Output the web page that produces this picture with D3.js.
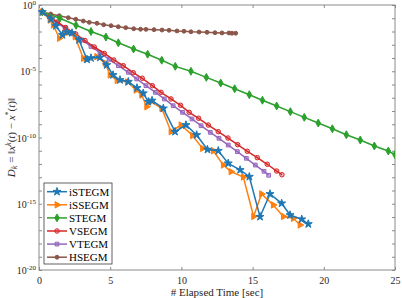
<!DOCTYPE html>
<html>
<head>
<meta charset="utf-8">
<script src="https://cdn.jsdelivr.net/npm/d3@7"></script>
<style>
  body { margin: 0; background: #fff; }
  svg text { font-family: "Liberation Serif", "Times New Roman", serif !important; }
</style>
</head>
<body>
<div id="chart"></div>
<script>
// series data (time in sec, D_k)
var istegmTime = [0.23, 0.84, 1.19, 1.65, 1.97, 2.32, 2.81, 3.37, 3.65, 4.28, 4.75, 5.20, 5.69, 6.27, 6.88, 7.32, 7.68, 7.94, 8.73, 9.55, 10.32, 11.07, 11.83, 12.59, 13.29, 14.12, 14.77, 15.52, 16.22, 17.04, 17.63, 18.45, 18.91];
var istegmD = [2.95e-1, 8.71e-2, 2.63e-2, 5.50e-3, 9.12e-3, 7.76e-3, 2.29e-3, 7.76e-5, 1.0e-4, 1.10e-4, 2.95e-5, 5.25e-6, 2.19e-6, 1.62e-6, 5.50e-7, 2.19e-7, 5.01e-8, 6.17e-8, 1.58e-8, 2.75e-10, 8.71e-10, 1.55e-10, 1.23e-11, 1.0e-11, 1.12e-12, 3.55e-13, 1.10e-13, 1.05e-16, 5.50e-15, 1.07e-15, 1.41e-16, 6.76e-17, 2.95e-17];

var issegmTime = [0.23, 0.77, 1.00, 1.43, 1.78, 2.06, 2.53, 3.11, 3.30, 4.05, 4.64, 4.99, 5.48, 6.21, 6.81, 7.21, 7.56, 7.84, 8.62, 9.27, 9.97, 10.78, 11.48, 12.24, 12.94, 13.48, 14.35, 15.07, 15.63, 16.45, 17.16, 17.86, 18.33];
var issegmD = [2.95e-1, 7.41e-2, 3.09e-2, 3.09e-3, 7.24e-3, 8.71e-3, 4.07e-3, 9.55e-5, 7.94e-5, 1.26e-4, 4.17e-5, 5.25e-6, 2.0e-6, 1.55e-6, 3.80e-7, 1.62e-7, 2.09e-8, 5.01e-8, 1.58e-8, 2.75e-10, 8.71e-10, 1.41e-10, 1.51e-11, 1.0e-11, 8.32e-13, 2.63e-13, 1.05e-13, 1.10e-16, 5.50e-15, 8.13e-16, 1.10e-16, 7.94e-17, 2.51e-17];

var stegmTime = [0.23, 1.47, 2.60, 3.65, 4.70, 5.57, 6.64, 7.63, 8.62, 9.57, 10.67, 11.75, 12.76, 13.74, 14.77, 15.69, 16.69, 17.65, 18.63, 19.61, 20.60, 21.58, 22.56, 23.55, 24.53, 25.0];
var stegmD = [2.95e-1, 1.0e-1, 2.95e-2, 1.0e-2, 3.8e-3, 1.41e-3, 4.79e-4, 1.91e-4, 6.76e-5, 2.34e-5, 1.0e-5, 3.47e-6, 1.29e-6, 4.79e-7, 1.70e-7, 6.46e-8, 2.40e-8, 8.91e-9, 3.31e-9, 1.23e-9, 4.57e-10, 1.62e-10, 6.46e-11, 2.29e-11, 9.55e-12, 5.01e-12];

var vsegmTime = [0.23, 0.77, 1.29, 1.87, 2.58, 3.23, 3.88, 4.59, 5.25, 5.92, 6.62, 7.25, 7.96, 8.57, 9.27, 9.94, 10.55, 11.21, 11.89, 12.59, 13.27, 13.95, 14.63, 15.33, 16.03, 16.69, 17.06];
var vsegmD = [2.95e-1, 1.23e-1, 5.25e-2, 2.0e-2, 6.46e-3, 2.09e-3, 6.76e-4, 2.19e-4, 7.08e-5, 2.63e-5, 7.76e-6, 2.95e-6, 8.13e-7, 2.57e-7, 8.13e-8, 2.69e-8, 7.94e-9, 2.82e-9, 8.71e-10, 2.75e-10, 9.12e-11, 2.88e-11, 9.12e-12, 3.02e-12, 9.55e-13, 2.95e-13, 1.55e-13];

var vtegmTime = [0.23, 0.77, 1.29, 1.83, 2.42, 3.02, 3.65, 4.28, 4.93, 5.57, 6.27, 6.86, 7.51, 8.17, 8.80, 9.42, 10.08, 10.74, 11.38, 12.03, 12.64, 13.29, 13.93, 14.56, 15.19, 15.80, 16.13];
var vtegmD = [2.95e-1, 1.15e-1, 4.37e-2, 1.82e-2, 6.46e-3, 2.29e-3, 7.41e-4, 2.51e-4, 7.94e-5, 2.63e-5, 8.32e-6, 2.63e-6, 8.13e-7, 2.57e-7, 8.13e-8, 2.51e-8, 7.94e-9, 2.51e-9, 7.76e-10, 2.45e-10, 8.71e-11, 2.69e-11, 8.51e-12, 2.69e-12, 8.32e-13, 2.82e-13, 1.41e-13];

var hsegmTime = [0.23, 0.82, 1.43, 2.06, 2.58, 3.11, 3.53, 4.07, 4.54, 5.06, 5.57, 6.09, 6.65, 7.13, 7.51, 8.08, 8.64, 9.13, 9.69, 10.18, 10.67, 11.24, 11.80, 12.36, 12.85, 13.34, 13.55, 13.81];
var hsegmD = [2.95e-1, 2.09e-1, 1.55e-1, 1.10e-1, 8.32e-2, 6.17e-2, 4.90e-2, 4.17e-2, 3.24e-2, 2.75e-2, 2.29e-2, 1.95e-2, 1.62e-2, 1.48e-2, 1.45e-2, 1.38e-2, 1.29e-2, 1.23e-2, 1.10e-2, 1.05e-2, 9.55e-3, 9.12e-3, 8.70e-3, 8.10e-3, 7.76e-3, 7.76e-3, 7.40e-3, 7.40e-3];

var seriesNames = ["iSTEGM", "iSSEGM", "STEGM", "VSEGM", "VTEGM", "HSEGM"];
var xTicks = [0, 5, 10, 15, 20, 25];
var yTicks = [1e0, 1e-1, 1e-2, 1e-3, 1e-4, 1e-5, 1e-6, 1e-7, 1e-8, 1e-9, 1e-10, 1e-11, 1e-12, 1e-13, 1e-14, 1e-15, 1e-16, 1e-17, 1e-18, 1e-19, 1e-20];
var yLabelExp = {"0": "0", "-5": "-5", "-10": "-10", "-15": "-15", "-20": "-20"};

var svgWidth = 402;
var svgHeight = 298;
var margin = { top: 5, right: 7, bottom: 28, left: 39 };
var width = svgWidth - margin.left - margin.right;
var height = svgHeight - margin.top - margin.bottom;
var serif = "'Liberation Serif', 'Times New Roman', serif";

var svg = d3.select("#chart")
  .append("svg")
  .attr("width", svgWidth)
  .attr("height", svgHeight)
  .attr("font-family", serif);

var chartGroup = svg.append("g")
  .attr("transform", `translate(${margin.left}, ${margin.top})`);

var xScale = d3.scaleLinear().domain([0, 25]).range([0, width]);
var yScale = d3.scaleLog().domain([1e-20, 1]).range([height, 0]);

var axisColor = "#8a8a8a";
var labelColor = "#262626";

// axes with inward ticks
var bottomAxis = d3.axisBottom(xScale).tickValues(xTicks).tickSize(-3).tickPadding(7);
var topAxis = d3.axisTop(xScale).tickValues(xTicks).tickSize(-3).tickFormat("");
var leftAxis = d3.axisLeft(yScale).tickValues(yTicks).tickSize(-3).tickPadding(5).tickFormat("");
var rightAxis = d3.axisRight(yScale).tickValues(yTicks).tickSize(-3).tickFormat("");

function styleAxis(g) {
  g.attr("font-family", serif);
  g.select(".domain").remove();
  g.selectAll(".tick line").attr("stroke", axisColor);
  g.selectAll("text").attr("fill", labelColor).style("font-size", "10px");
}

chartGroup.append("g").attr("transform", `translate(0, ${height})`).call(bottomAxis).call(styleAxis);
chartGroup.append("g").call(topAxis).call(styleAxis);
var yAxisG = chartGroup.append("g").call(leftAxis).call(styleAxis);
chartGroup.append("g").attr("transform", `translate(${width}, 0)`).call(rightAxis).call(styleAxis);

// y labels as 10^n
yAxisG.selectAll(".tick").each(function(d) {
  var e = Math.round(Math.log10(d));
  if (yLabelExp[String(e)] === undefined) return;
  var t = d3.select(this).append("text")
    .attr("x", -3).attr("dy", "0.35em")
    .attr("text-anchor", "end")
    .attr("fill", labelColor)
    .style("font-size", "10px");
  t.append("tspan").text("10");
  t.append("tspan").attr("dy", "-4").style("font-size", "7px").text(yLabelExp[String(e)]);
});

// box
chartGroup.append("rect")
  .attr("width", width).attr("height", height)
  .attr("fill", "none").attr("stroke", axisColor).attr("stroke-width", 1);

svg.append("defs").append("clipPath").attr("id", "plotclip")
  .append("rect").attr("x", -4).attr("y", -4).attr("width", width + 4).attr("height", height + 8);

var series = [
  { name: seriesNames[0], t: istegmTime, d: istegmD, color: "#1f77b4", symbol: d3.symbolStar, size: 20, rot: 0, fillOp: 1 },
  { name: seriesNames[1], t: issegmTime, d: issegmD, color: "#ff7f0e", symbol: d3.symbolTriangle, size: 18, rot: 90, fillOp: 1 },
  { name: seriesNames[2], t: stegmTime, d: stegmD, color: "#2ca02c", symbol: d3.symbolDiamond, size: 18, rot: 0, fillOp: 1 },
  { name: seriesNames[3], t: vsegmTime, d: vsegmD, color: "#d62728", symbol: d3.symbolCircle, size: 16, rot: 0, fillOp: 0.35 },
  { name: seriesNames[4], t: vtegmTime, d: vtegmD, color: "#9467bd", symbol: d3.symbolSquare, size: 14, rot: 0, fillOp: 0.5 },
  { name: seriesNames[5], t: hsegmTime, d: hsegmD, color: "#8c564b", symbol: d3.symbolCircle, size: 12, rot: 0, fillOp: 1 }
];

var line = d3.line()
  .x(d => xScale(d[0]))
  .y(d => yScale(d[1]));

var plot = chartGroup.append("g").attr("clip-path", "url(#plotclip)");

// draw back to front so the blue/orange sit on top
series.slice().reverse().forEach(function(s) {
  var pts = s.t.map((t, i) => [t, s.d[i]]);
  var g = plot.append("g");
  g.append("path")
    .datum(pts)
    .attr("d", line)
    .attr("fill", "none")
    .attr("stroke", s.color)
    .attr("stroke-width", 1.5);
  g.selectAll("path.mk")
    .data(pts)
    .enter()
    .append("path")
    .attr("class", "mk")
    .attr("d", d3.symbol().type(s.symbol).size(s.size))
    .attr("transform", d => `translate(${xScale(d[0])}, ${yScale(d[1])}) rotate(${s.rot})`)
    .attr("fill", s.color)
    .attr("fill-opacity", s.fillOp)
    .attr("stroke", s.color)
    .attr("stroke-width", 1);
});

// legend
var legend = chartGroup.append("g").attr("transform", "translate(5, 178)");
legend.append("rect")
  .attr("width", 68).attr("height", 81)
  .attr("fill", "#fff").attr("stroke", "#3a3a3a").attr("stroke-width", 0.8);

series.forEach(function(s, i) {
  var yy = 8.7 + i * 13.1;
  var row = legend.append("g").attr("transform", `translate(0, ${yy})`);
  row.append("line").attr("x1", 3).attr("x2", 23).attr("y1", 0).attr("y2", 0)
    .attr("stroke", s.color).attr("stroke-width", 1.5);
  row.append("path")
    .attr("d", d3.symbol().type(s.symbol).size(s.size))
    .attr("transform", `translate(13, 0) rotate(${s.rot})`)
    .attr("fill", s.color).attr("fill-opacity", s.fillOp)
    .attr("stroke", s.color).attr("stroke-width", 1);
  row.append("text").attr("x", 25).attr("dy", "0.35em")
    .attr("fill", "#000").style("font-size", "11px")
    .text(s.name);
});

// axis titles
svg.append("text")
  .attr("x", margin.left + width / 2)
  .attr("y", 296)
  .attr("text-anchor", "middle")
  .attr("fill", labelColor)
  .style("font-size", "11px")
  .text("# Elapsed Time [sec]");

var yTitle = svg.append("text")
  .attr("transform", `translate(15, ${margin.top + height / 2}) rotate(-90)`)
  .attr("text-anchor", "middle")
  .attr("fill", labelColor)
  .style("font-size", "11px");
yTitle.append("tspan").style("font-style", "italic").text("D");
yTitle.append("tspan").attr("dy", 2).style("font-style", "italic").style("font-size", "8px").text("k");
yTitle.append("tspan").attr("dy", -2).text(" = \u2016");
yTitle.append("tspan").style("font-style", "italic").text("x");
yTitle.append("tspan").attr("dy", -4).style("font-style", "italic").style("font-size", "8px").text("k");
yTitle.append("tspan").attr("dy", 4).text("(");
yTitle.append("tspan").style("font-style", "italic").text("t");
yTitle.append("tspan").text(") \u2212 ");
yTitle.append("tspan").style("font-style", "italic").text("x");
yTitle.append("tspan").attr("dy", -4).style("font-size", "8px").text("*");
yTitle.append("tspan").attr("dy", 4).text("(");
yTitle.append("tspan").style("font-style", "italic").text("t");
yTitle.append("tspan").text(")\u2016");
</script>
</body>
</html>
